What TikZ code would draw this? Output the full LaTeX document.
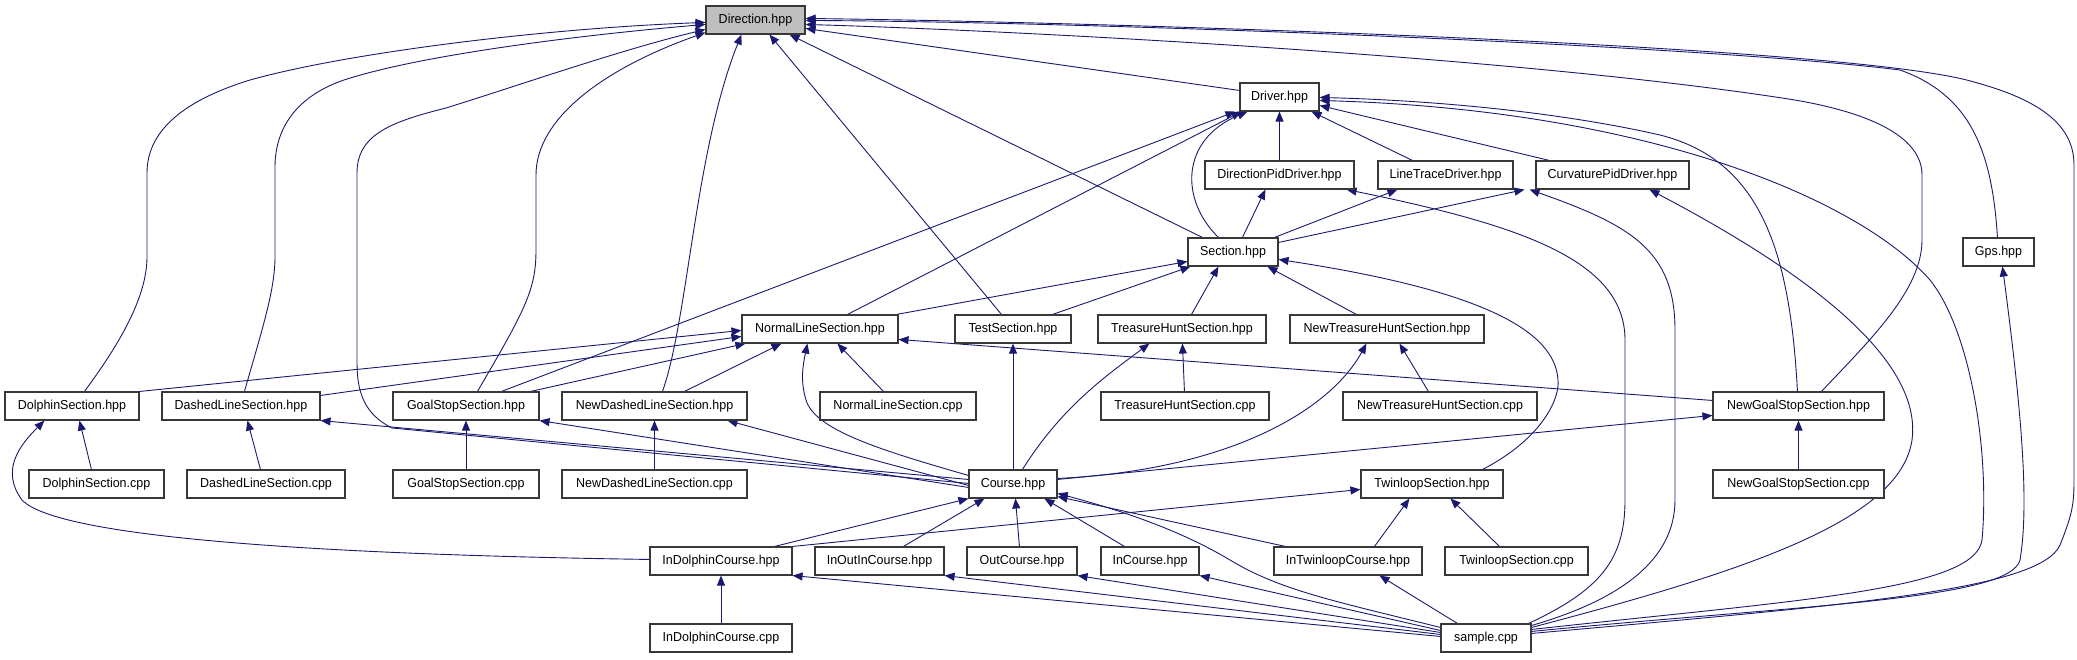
\documentclass[tikz,border=0pt]{standalone}
\usepackage{fontspec}
\setmainfont{Liberation Sans}[FakeStretch=0.96]
\usetikzlibrary{arrows.meta}
\definecolor{edgeblue}{HTML}{191970}
\pgfdeclarelayer{bg}
\pgfsetlayers{bg,main}
\tikzset{
  box/.style={draw=black!78, line width=1.1pt, fill=white, minimum height=28pt, inner sep=0pt, font=\fontsize{13pt}{15pt}\selectfont},
  cur/.style={box, fill=black!25},
  e/.style={draw=edgeblue, line width=0.9pt, -{Triangle[length=10pt,width=8pt]}}
}
\begin{document}
\begin{tikzpicture}[x=1pt,y=-1pt]
\useasboundingbox (0,0) rectangle (2077,659);
% row 0
\node[cur, minimum width=99pt] (D) at (755.5,20) {Direction.hpp};
% row 1
\node[box, minimum width=79pt] (Drv) at (1279.5,97) {Driver.hpp};
% row 2
\node[box, minimum width=149pt] (DPD) at (1279.5,175) {DirectionPidDriver.hpp};
\node[box, minimum width=135pt] (LTD) at (1445.5,175) {LineTraceDriver.hpp};
\node[box, minimum width=153pt] (CPD) at (1612.5,175) {CurvaturePidDriver.hpp};
% row 3
\node[box, minimum width=90pt] (Sec) at (1233,252) {Section.hpp};
\node[box, minimum width=71pt] (Gps) at (1998.5,252) {Gps.hpp};
% row 4
\node[box, minimum width=156pt] (NLS) at (820,329) {NormalLineSection.hpp};
\node[box, minimum width=116pt] (TS) at (1013,329) {TestSection.hpp};
\node[box, minimum width=168pt] (THS) at (1182,329) {TreasureHuntSection.hpp};
\node[box, minimum width=194pt] (NTHS) at (1387,329) {NewTreasureHuntSection.hpp};
% row 5
\node[box, minimum width=134pt] (DS) at (72,406) {DolphinSection.hpp};
\node[box, minimum width=158pt] (DLS) at (241,406) {DashedLineSection.hpp};
\node[box, minimum width=146pt] (GSS) at (466,406) {GoalStopSection.hpp};
\node[box, minimum width=185pt] (NDLS) at (654.5,406) {NewDashedLineSection.hpp};
\node[box, minimum width=156pt] (NLSc) at (898,406) {NormalLineSection.cpp};
\node[box, minimum width=168pt] (THSc) at (1185,406) {TreasureHuntSection.cpp};
\node[box, minimum width=194pt] (NTHSc) at (1440,406) {NewTreasureHuntSection.cpp};
\node[box, minimum width=171pt] (NGSS) at (1798.5,406) {NewGoalStopSection.hpp};
% row 6
\node[box, minimum width=135pt] (DSc) at (96.5,484) {DolphinSection.cpp};
\node[box, minimum width=158pt] (DLSc) at (266,484) {DashedLineSection.cpp};
\node[box, minimum width=146pt] (GSSc) at (466,484) {GoalStopSection.cpp};
\node[box, minimum width=185pt] (NDLSc) at (654.5,484) {NewDashedLineSection.cpp};
\node[box, minimum width=88pt] (Crs) at (1013,484) {Course.hpp};
\node[box, minimum width=142pt] (TwS) at (1432,484) {TwinloopSection.hpp};
\node[box, minimum width=171pt] (NGSSc) at (1798.5,484) {NewGoalStopSection.cpp};
% row 7
\node[box, minimum width=142pt] (IDC) at (721,561) {InDolphinCourse.hpp};
\node[box, minimum width=129pt] (IOIC) at (879.5,561) {InOutInCourse.hpp};
\node[box, minimum width=110pt] (OC) at (1022,561) {OutCourse.hpp};
\node[box, minimum width=98pt] (IC) at (1150,561) {InCourse.hpp};
\node[box, minimum width=148pt] (ITC) at (1348,561) {InTwinloopCourse.hpp};
\node[box, minimum width=143pt] (TwSc) at (1516.5,561) {TwinloopSection.cpp};
% row 8
\node[box, minimum width=142pt] (IDCc) at (721,638) {InDolphinCourse.cpp};
\node[box, minimum width=90pt] (Smp) at (1486,638) {sample.cpp};

\begin{pgfonlayer}{bg}
% --- to Direction.hpp
\draw[e] ([yshift=-8pt]Drv.north west) -- ([yshift=-23pt]D.north east);
\draw[e] ([xshift=15pt]Sec.north west) -- ([xshift=84pt]D.south west);
\draw[e] ([xshift=47pt]TS.north west) -- ([xshift=64pt]D.south west);
\draw[e] ([xshift=101pt]NDLS.north west) .. controls (688,320) and (695,150) .. ([xshift=36pt]D.south west);
\draw[e] ([xshift=85pt]GSS.north west) .. controls (525,310) and (536,290) .. (536,250) -- (536,175) .. controls (536,120) and (600,70) .. ([yshift=-27pt]D.north west);
\draw[e] ([xshift=80pt]DS.north west) .. controls (115,350) and (147,300) .. (147,257) -- (147,173) .. controls (147,130) and (185,100) .. (250,80) .. controls (350,52) and (550,28) .. ([yshift=-17pt]D.north west);
\draw[e] ([xshift=83pt]DLS.north west) .. controls (262,330) and (275,290) .. (275,257) -- (275,167) .. controls (275,125) and (300,95) .. (344,80) .. controls (420,55) and (580,35) .. ([yshift=-19pt]D.north west);
\draw[e] ([yshift=-14pt]Crs.north west) -- (392,428) .. controls (364,414) and (357,392) .. (357,362) -- (357,173) .. controls (357,135) and (390,122) .. (446,108) .. controls (520,85) and (620,50) .. ([yshift=-24pt]D.north west);
\draw[e] ([xshift=35pt]Gps.north west) .. controls (1992,150) and (1970,95) .. (1900,70) .. controls (1700,45) and (1100,22) .. ([yshift=-15pt]D.north east);
\draw[e] ([yshift=-10pt]Smp.north east) .. controls (1850,605) and (2040,590) .. (2060,545) .. controls (2072,515) and (2074,505) .. (2074,480) -- (2074,165) .. controls (2074,125) and (2040,100) .. (1974,82) .. controls (1850,45) and (1100,22) .. ([yshift=-13pt]D.north east);
\draw[e] ([xshift=109pt]NGSS.north west) .. controls (1870,340) and (1922,290) .. (1922,240) -- (1922,175) .. controls (1922,130) and (1850,108) .. (1782,98) .. controls (1500,55) and (1000,30) .. ([yshift=-19pt]D.north east);
% --- to Driver.hpp
\draw[e] (DPD.north) -- (Drv.south);
\draw[e] ([xshift=35pt]LTD.north west) -- ([xshift=72pt]Drv.south west);
\draw[e] ([xshift=14pt]CPD.north west) -- ([yshift=-23pt]Drv.north east);
\draw[e] ([xshift=31pt]Sec.north west) .. controls (1180,200) and (1180,140) .. ([xshift=8pt]Drv.south west);
\draw[e] ([xshift=106pt]NLS.north west) -- ([xshift=2pt]Drv.south west);
\draw[e] ([xshift=109pt]GSS.north west) -- ([xshift=-4pt]Drv.south west);
\draw[e] ([xshift=85pt]NGSS.north west) .. controls (1790,250) and (1760,160) .. (1660,135) .. controls (1550,110) and (1420,100) .. ([yshift=-15pt]Drv.north east);
\draw[e] ([yshift=-6pt]Smp.north east) .. controls (1800,600) and (1975,590) .. (1982,540) .. controls (1990,450) and (1970,330) .. (1930,280) .. controls (1860,200) and (1650,110) .. ([yshift=-18pt]Drv.north east);
% --- to drivers
\draw[e] ([xshift=55pt]Sec.north west) -- ([xshift=61pt]DPD.south west);
\draw[e] ([xshift=-3pt]Smp.north east) .. controls (1600,590) and (1625,560) .. (1625,500) -- (1625,340) .. controls (1625,260) and (1520,225) .. ([xshift=-8pt]DPD.south east);
\draw[e] ([xshift=87pt]Sec.north west) -- ([xshift=20pt]LTD.south west);
\draw[e] ([yshift=-2pt]Smp.north east) .. controls (1620,600) and (1675,560) .. (1675,500) -- (1675,330) .. controls (1675,250) and (1630,225) .. ([xshift=16pt]LTD.south east);
\draw[e] ([yshift=-5pt]Sec.north east) -- ([xshift=-11pt]CPD.south west);
\draw[e] ([yshift=-4pt]Smp.north east) .. controls (1750,570) and (1900,520) .. (1912,440) .. controls (1920,380) and (1860,300) .. ([xshift=114pt]CPD.south west);
% --- to Section.hpp
\draw[e] ([xshift=155pt]NLS.north west) -- ([yshift=-24pt]Sec.north west);
\draw[e] ([xshift=98pt]TS.north west) -- ([xshift=3pt]Sec.south west);
\draw[e] ([xshift=94pt]THS.north west) -- ([xshift=31pt]Sec.south west);
\draw[e] ([xshift=67pt]NTHS.north west) -- ([xshift=80pt]Sec.south west);
\draw[e] ([xshift=122pt]TwS.north west) .. controls (1540,440) and (1560,400) .. (1558,380) .. controls (1555,330) and (1480,290) .. ([yshift=-22pt]Sec.north east);
% --- to Gps.hpp
\draw[e] ([yshift=-8pt]Smp.north east) .. controls (1800,605) and (2010,600) .. (2020,560) .. controls (2030,500) and (2020,400) .. ([xshift=40pt]Gps.south west);
% --- to NormalLineSection.hpp
\draw[e] (DS.north east) -- ([yshift=-16pt]NLS.north west);
\draw[e] ([yshift=-4pt]DLS.north east) -- ([yshift=-22pt]NLS.north west);
\draw[e] ([xshift=138pt]GSS.north west) -- ([xshift=4pt]NLS.south west);
\draw[e] ([xshift=123pt]NDLS.north west) -- ([xshift=40pt]NLS.south west);
\draw[e] ([xshift=64pt]NLSc.north west) -- ([xshift=96pt]NLS.south west);
\draw[e] ([yshift=-6pt]Crs.north west) .. controls (880,450) and (815,430) .. (806,400) .. controls (800,380) and (803,365) .. ([xshift=66pt]NLS.south west);
\draw[e] ([yshift=-9pt]NGSS.north west) -- ([yshift=-25pt]NLS.north east);
% --- row 4 others
\draw[e] (Crs.north) -- (TS.south);
\draw[e] ([xshift=84pt]THSc.north west) -- ([xshift=85pt]THS.south west);
\draw[e] ([xshift=54pt]Crs.north west) .. controls (1060,410) and (1100,380) .. ([xshift=52pt]THS.south west);
\draw[e] ([xshift=86pt]NTHSc.north west) -- ([xshift=110pt]NTHS.south west);
\draw[e] ([yshift=-9pt]Crs.north east) .. controls (1230,470) and (1330,410) .. ([xshift=77pt]NTHS.south west);
% --- row 5
\draw[e] ([xshift=63pt]DSc.north west) -- ([xshift=75pt]DS.south west);
\draw[e] ([yshift=-13pt]IDC.north west) .. controls (350,555) and (60,540) .. (22,500) .. controls (0,470) and (20,445) .. ([xshift=40pt]DS.south west);
\draw[e] ([xshift=74pt]DLSc.north west) -- ([xshift=86pt]DLS.south west);
\draw[e] ([yshift=-10pt]Crs.north west) -- (DLS.south east);
\draw[e] (GSSc.north) -- (GSS.south);
\draw[e] ([yshift=-18pt]Crs.north west) -- (GSS.south east);
\draw[e] (NDLSc.north) -- (NDLS.south);
\draw[e] ([yshift=-16pt]Crs.north west) -- ([xshift=166pt]NDLS.south west);
\draw[e] (NGSSc.north) -- (NGSS.south);
\draw[e] ([yshift=-10pt]Crs.north east) -- ([yshift=-24pt]NGSS.north west);
% --- to Course.hpp
\draw[e] ([xshift=125pt]IDC.north west) -- (Crs.south west);
\draw[e] ([xshift=89pt]IOIC.north west) -- ([xshift=16pt]Crs.south west);
\draw[e] ([xshift=53pt]OC.north west) -- ([xshift=47pt]Crs.south west);
\draw[e] ([xshift=24pt]IC.north west) -- ([xshift=76pt]Crs.south west);
\draw[e] ([xshift=12pt]ITC.north west) -- ([yshift=2pt]Crs.south east);
\draw[e] ([yshift=-4pt]Smp.north west) .. controls (1330,600) and (1280,590) .. (1230,560) .. controls (1180,530) and (1120,510) .. ([yshift=-24pt]Crs.north east);
% --- to TwinloopSection.hpp
\draw[e] ([xshift=101pt]ITC.north west) -- ([xshift=49pt]TwS.south west);
\draw[e] ([xshift=55pt]TwSc.north west) -- ([xshift=90pt]TwS.south west);
\draw[e] (IDC.north east) -- ([yshift=-20pt]TwS.north west);
% --- row 7 targets
\draw[e] (IDCc.north) -- (IDC.south);
\draw[e] ([yshift=-13pt]Smp.north west) -- (IDC.south east);
\draw[e] ([yshift=-11pt]Smp.north west) -- (IOIC.south east);
\draw[e] ([yshift=-9pt]Smp.north west) -- (OC.south east);
\draw[e] ([yshift=-7pt]Smp.north west) -- (IC.south east);
\draw[e] ([xshift=17pt]Smp.north west) -- ([xshift=106pt]ITC.south west);
\end{pgfonlayer}
\end{tikzpicture}
\end{document}
